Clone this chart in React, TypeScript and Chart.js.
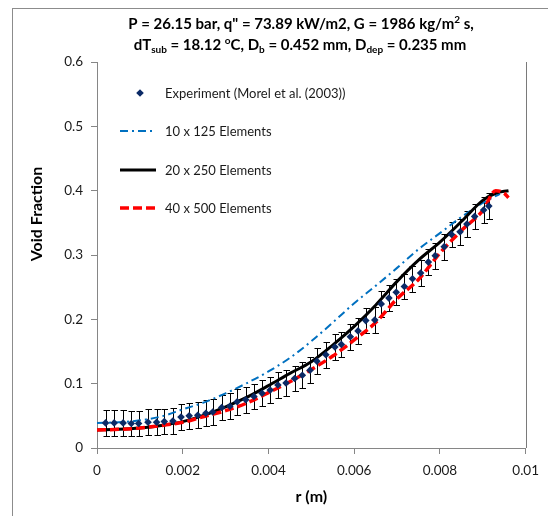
import React, { useEffect, useRef } from "react";
import { Chart, registerables } from "chart.js";

Chart.register(...registerables);

const FONT = "Lato, 'Open Sans', 'Liberation Sans', sans-serif";

const X_TICKS = [0, 0.002, 0.004, 0.006, 0.008, 0.01];
const X_TICK_LABELS = ["0", "0.002", "0.004", "0.006", "0.008", "0.01"];
const Y_TICKS = [0, 0.1, 0.2, 0.3, 0.4, 0.5, 0.6];
const Y_TICK_LABELS = ["0", "0.1", "0.2", "0.3", "0.4", "0.5", "0.6"];

const X_TITLE = "r (m)";
const Y_TITLE = "Void Fraction";

// rich title segments: [text, kind]
const TITLE_LINE_1: [string, string][] = [
  ['P = 26.15 bar, q" = 73.89 kW/m2, G = 1986 kg/m', ""],
  ["2", "sup"],
  [" s,", ""],
];
const TITLE_LINE_2: [string, string][] = [
  ["dT", ""],
  ["sub", "sub"],
  [" = 18.12 ", ""],
  ["o", "sup"],
  ["C, D", ""],
  ["b", "sub"],
  [" = 0.452 mm, D", ""],
  ["dep", "sub"],
  [" = 0.235 mm", ""],
];

const SERIES_NAMES = [
  "Experiment (Morel et al. (2003))",
  "10 x 125 Elements",
  "20 x 250 Elements",
  "40 x 500 Elements",
];

// Experiment (Morel et al. 2003)
const EXP_R = [
  0.0002, 0.0004, 0.00061, 0.0008, 0.00097, 0.00119, 0.00139, 0.00157, 0.00177, 0.00196,
  0.00215, 0.00235, 0.00254, 0.0027, 0.00291, 0.0031, 0.00327, 0.00347, 0.00366, 0.00385,
  0.00404, 0.00422, 0.00441, 0.00461, 0.00479, 0.00497, 0.00513, 0.00534, 0.00555, 0.0057,
  0.00591, 0.00609, 0.00627, 0.00648, 0.00663, 0.00681, 0.00698, 0.00717, 0.00736, 0.00755,
  0.00773, 0.00789, 0.0081, 0.00827, 0.00847, 0.00863, 0.00881, 0.00902, 0.00914,
];
const EXP_VF = [
  0.039, 0.039, 0.039, 0.038, 0.038, 0.04, 0.04, 0.041, 0.042, 0.048,
  0.05, 0.051, 0.054, 0.056, 0.063, 0.065, 0.072, 0.075, 0.08, 0.085,
  0.09, 0.098, 0.101, 0.108, 0.113, 0.121, 0.135, 0.145, 0.157, 0.161,
  0.173, 0.182, 0.198, 0.199, 0.224, 0.233, 0.242, 0.251, 0.263, 0.272,
  0.289, 0.299, 0.313, 0.332, 0.336, 0.348, 0.36, 0.37, 0.376,
];
const EXP_ERROR = 0.02;

// 10 x 125 Elements
const MESH10_R = [0, 0.0005, 0.001, 0.0015, 0.002, 0.0025, 0.003, 0.0035, 0.004, 0.0045, 0.005, 0.0055, 0.006, 0.0065, 0.007, 0.0075, 0.008, 0.0085, 0.009, 0.0094];
const MESH10_VF = [0.039, 0.04, 0.043, 0.049, 0.06, 0.071, 0.085, 0.101, 0.119, 0.14, 0.166, 0.195, 0.225, 0.252, 0.28, 0.309, 0.334, 0.359, 0.381, 0.395];

// 20 x 250 Elements
const MESH20_R = [0, 0.0005, 0.001, 0.0015, 0.002, 0.0025, 0.003, 0.0035, 0.004, 0.0045, 0.005, 0.0055, 0.006, 0.0065, 0.007, 0.0075, 0.008, 0.0085, 0.009, 0.0093, 0.0096];
const MESH20_VF = [0.028, 0.029, 0.031, 0.035, 0.041, 0.051, 0.064, 0.079, 0.097, 0.116, 0.134, 0.16, 0.189, 0.222, 0.259, 0.292, 0.32, 0.352, 0.385, 0.396, 0.4];

// 40 x 500 Elements
const MESH40_R = [0, 0.0005, 0.001, 0.0015, 0.002, 0.0025, 0.003, 0.0035, 0.004, 0.0045, 0.005, 0.0055, 0.006, 0.0065, 0.007, 0.0075, 0.008, 0.0085, 0.009, 0.0093, 0.0095, 0.0096];
const MESH40_VF = [0.028, 0.029, 0.031, 0.035, 0.04, 0.049, 0.058, 0.07, 0.086, 0.103, 0.122, 0.143, 0.168, 0.195, 0.232, 0.262, 0.303, 0.338, 0.369, 0.4, 0.396, 0.389];

const NAVY = "#0b2a66";
const BLUE = "#0070c0";
const RED = "#ff0000";
const BLACK = "#000000";
const AXIS_GRAY = "#868686";
const TEXT = "#1a1a1a";

const toXY = (xs: number[], ys: number[]) => xs.map((x, i) => ({ x, y: ys[i] }));

function drawRich(ctx: CanvasRenderingContext2D, segs: [string, string][], cx: number, y: number, size: number) {
  const big = `bold ${size}px ${FONT}`;
  const small = `bold ${Math.round(size * 0.68)}px ${FONT}`;
  let total = 0;
  const widths = segs.map(([t, k]) => {
    ctx.font = k ? small : big;
    const w = ctx.measureText(t).width;
    total += w;
    return w;
  });
  let x = cx - total / 2;
  ctx.textAlign = "left";
  ctx.textBaseline = "alphabetic";
  segs.forEach(([t, k], i) => {
    ctx.font = k ? small : big;
    const dy = k === "sup" ? -size * 0.38 : k === "sub" ? size * 0.22 : 0;
    ctx.fillText(t, x, y + dy);
    x += widths[i];
  });
}

const decorPlugin = {
  id: "decor",
  beforeDatasetsDraw(chart: any) {
    const ctx: CanvasRenderingContext2D = chart.ctx;
    const xs = chart.scales.x;
    const ys = chart.scales.y;
    ctx.save();
    ctx.strokeStyle = BLACK;
    ctx.lineWidth = 1;
    EXP_R.forEach((r, i) => {
      const x = Math.round(xs.getPixelForValue(r)) + 0.5;
      const yt = Math.round(ys.getPixelForValue(EXP_VF[i] + EXP_ERROR)) + 0.5;
      const yb = Math.round(ys.getPixelForValue(EXP_VF[i] - EXP_ERROR)) + 0.5;
      ctx.beginPath();
      ctx.moveTo(x, yt);
      ctx.lineTo(x, yb);
      ctx.moveTo(x - 3, yt);
      ctx.lineTo(x + 3.5, yt);
      ctx.moveTo(x - 3, yb);
      ctx.lineTo(x + 3.5, yb);
      ctx.stroke();
    });
    ctx.restore();
  },
  afterDraw(chart: any) {
    const ctx: CanvasRenderingContext2D = chart.ctx;
    const area = chart.chartArea;
    ctx.save();
    // chart frame
    ctx.strokeStyle = "#8c8c8c";
    ctx.lineWidth = 1;
    ctx.beginPath();
    ctx.moveTo(12, 8.5);
    ctx.lineTo(548, 8.5);
    ctx.moveTo(12.5, 8);
    ctx.lineTo(12.5, 516);
    ctx.stroke();
    ctx.strokeStyle = "#7a7a7a";
    ctx.beginPath();
    const rx = Math.round(area.right) + 0.5;
    ctx.moveTo(rx, area.top);
    ctx.lineTo(rx, area.bottom);
    ctx.stroke();

    // title
    ctx.fillStyle = BLACK;
    drawRich(ctx, TITLE_LINE_1, 301, 29, 15);
    drawRich(ctx, TITLE_LINE_2, 300, 50, 15);

    // axis titles
    ctx.font = `bold 16px ${FONT}`;
    ctx.textAlign = "center";
    ctx.textBaseline = "middle";
    ctx.fillText(X_TITLE, (area.left + area.right) / 2, 497);
    ctx.save();
    ctx.translate(37, 214);
    ctx.rotate(-Math.PI / 2);
    ctx.fillText(Y_TITLE, 0, 0);
    ctx.restore();

    // legend
    const rows = [93, 131, 170, 208];
    const lx0 = 120;
    const lx1 = 156;
    const tx = 165;
    // experiment marker
    ctx.fillStyle = NAVY;
    ctx.beginPath();
    ctx.moveTo(140, rows[0] - 3.8);
    ctx.lineTo(143.8, rows[0]);
    ctx.lineTo(140, rows[0] + 3.8);
    ctx.lineTo(136.2, rows[0]);
    ctx.closePath();
    ctx.fill();
    const lineStyles = [
      { color: BLUE, width: 2, dash: [8, 4, 2, 4] },
      { color: BLACK, width: 3, dash: [] as number[] },
      { color: RED, width: 3.5, dash: [9, 4] },
    ];
    lineStyles.forEach((s, i) => {
      const y = rows[i + 1];
      ctx.strokeStyle = s.color;
      ctx.lineWidth = s.width;
      ctx.setLineDash(s.dash);
      ctx.beginPath();
      ctx.moveTo(lx0, y);
      ctx.lineTo(lx1, y);
      ctx.stroke();
    });
    ctx.setLineDash([]);
    ctx.fillStyle = TEXT;
    ctx.font = `13px ${FONT}`;
    ctx.textAlign = "left";
    ctx.textBaseline = "middle";
    SERIES_NAMES.forEach((name, i) => ctx.fillText(name, tx, rows[i] + 1));
    ctx.restore();
  },
};

export default function App() {
  const ref = useRef<HTMLCanvasElement | null>(null);

  useEffect(() => {
    if (!ref.current) return;
    const chart = new Chart(ref.current, {
      type: "scatter",
      data: {
        datasets: [
          {
            label: SERIES_NAMES[0],
            data: toXY(EXP_R, EXP_VF),
            showLine: false,
            pointStyle: "rectRot",
            pointRadius: 3.8,
            pointBackgroundColor: NAVY,
            pointBorderColor: NAVY,
            pointBorderWidth: 0,
            order: 0,
          },
          {
            label: SERIES_NAMES[1],
            data: toXY(MESH10_R, MESH10_VF),
            showLine: true,
            pointRadius: 0,
            borderColor: BLUE,
            borderWidth: 2,
            borderDash: [8, 4, 2, 4],
            cubicInterpolationMode: "monotone",
            order: 3,
          },
          {
            label: SERIES_NAMES[2],
            data: toXY(MESH20_R, MESH20_VF),
            showLine: true,
            pointRadius: 0,
            borderColor: BLACK,
            borderWidth: 3,
            cubicInterpolationMode: "monotone",
            order: 2,
          },
          {
            label: SERIES_NAMES[3],
            data: toXY(MESH40_R, MESH40_VF),
            showLine: true,
            pointRadius: 0,
            borderColor: RED,
            borderWidth: 3.5,
            borderDash: [9, 4],
            cubicInterpolationMode: "monotone",
            order: 1,
          },
        ],
      },
      options: {
        responsive: false,
        animation: false,
        devicePixelRatio: 1,
        layout: { padding: { left: 0, right: 19, top: 62, bottom: 0 } },
        plugins: {
          legend: { display: false },
          title: { display: false },
          tooltip: { enabled: false },
        },
        scales: {
          x: {
            type: "linear",
            min: 0,
            max: 0.01,
            afterBuildTicks: (s: any) => {
              s.ticks = X_TICKS.map((v) => ({ value: v }));
            },
            afterFit: (s: any) => {
              s.height = 68;
            },
            ticks: {
              callback: (_v: any, i: number) => X_TICK_LABELS[i],
              font: { family: FONT, size: 13.5 },
              color: TEXT,
              padding: 9,
              maxRotation: 0,
              autoSkip: false,
            },
            grid: { drawOnChartArea: false, drawTicks: true, tickLength: 6, color: AXIS_GRAY },
            border: { display: true, color: AXIS_GRAY, width: 1 },
          },
          y: {
            type: "linear",
            min: 0,
            max: 0.6,
            afterBuildTicks: (s: any) => {
              s.ticks = Y_TICKS.map((v) => ({ value: v }));
            },
            afterFit: (s: any) => {
              s.width = 97;
            },
            ticks: {
              callback: (_v: any, i: number) => Y_TICK_LABELS[i],
              font: { family: FONT, size: 13.5 },
              color: TEXT,
              padding: 8,
              autoSkip: false,
            },
            grid: { drawOnChartArea: false, drawTicks: true, tickLength: 6, color: AXIS_GRAY },
            border: { display: true, color: AXIS_GRAY, width: 1 },
          },
        },
      },
      plugins: [decorPlugin],
    } as any);
    return () => chart.destroy();
  }, []);

  return (
    <div style={{ position: "absolute", left: 0, top: 0, width: 548, height: 516, background: "#fff" }}>
      <canvas ref={ref} width={548} height={516} style={{ width: 548, height: 516, display: "block" }} />
    </div>
  );
}
